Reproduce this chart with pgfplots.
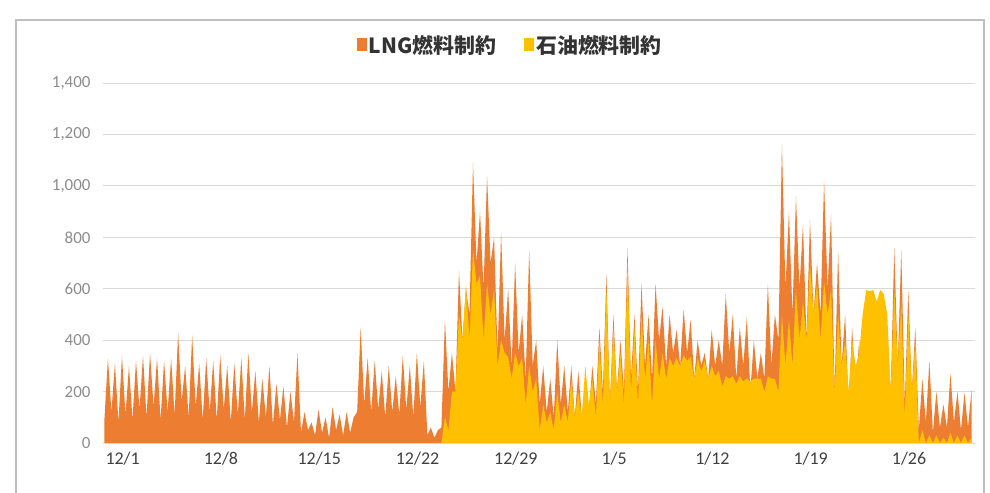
\documentclass[border=0pt]{standalone}
\usepackage{pgfplots}
\pgfplotsset{compat=1.18}
\usepackage{pgfplotstable}
\usepackage{fontspec}
\setmainfont{Carlito}
\newfontfamily\cjk{Noto Sans CJK JP}
\definecolor{lngc}{HTML}{ED7D31}
\definecolor{oilc}{HTML}{FFC000}
\definecolor{gridc}{HTML}{D9D9D9}
\definecolor{ylab}{HTML}{8C8C8C}
\definecolor{xlab}{HTML}{404040}
\pgfplotstableread{
x lng oil
0.10 90 0
0.35 330 0
0.60 120 0
0.85 310 0
1.10 80 0
1.35 340 0
1.60 110 0
1.85 300 0
2.10 90 0
2.35 320 0
2.60 130 0
2.85 340 0
3.10 100 0
3.35 350 0
3.60 140 0
3.85 330 0
4.10 90 0
4.35 320 0
4.60 120 0
4.85 330 0
5.10 110 0
5.35 430 0
5.60 160 0
5.85 300 0
6.10 100 0
6.35 420 0
6.60 140 0
6.85 310 0
7.10 90 0
7.35 330 0
7.60 120 0
7.85 320 0
8.10 90 0
8.35 340 0
8.60 130 0
8.85 300 0
9.10 80 0
9.35 310 0
9.60 110 0
9.85 330 0
10.10 90 0
10.35 350 0
10.60 120 0
10.85 280 0
11.10 80 0
11.35 250 0
11.60 100 0
11.85 300 0
12.10 70 0
12.35 230 0
12.60 90 0
12.85 220 0
13.10 60 0
13.35 200 0
13.60 80 0
13.85 350 0
14.10 40 0
14.35 120 0
14.60 50 0
14.85 80 0
15.10 30 0
15.35 130 0
15.60 40 0
15.85 100 0
16.10 20 0
16.35 140 0
16.60 50 0
16.85 110 0
17.10 30 0
17.35 120 0
17.60 40 0
17.85 100 0
18.10 120 0
18.35 450 0
18.60 150 0
18.85 330 0
19.10 120 0
19.35 320 0
19.60 130 0
19.85 280 0
20.10 100 0
20.35 300 0
20.60 120 0
20.85 260 0
21.10 110 0
21.35 340 0
21.60 130 0
21.85 300 0
22.10 100 0
22.35 350 0
22.60 140 0
22.85 320 0
23.10 30 0
23.35 60 0
23.60 20 0
23.85 50 0
24.10 60 0
24.35 480 100
24.60 200 50
24.85 350 200
25.10 200 200
25.35 670 500
25.60 400 400
25.85 600 620
26.10 500 400
26.35 1090 750
26.60 700 620
26.85 900 650
27.10 600 400
27.35 1040 620
27.60 700 500
27.85 800 600
28.10 350 300
28.35 820 400
28.60 400 350
28.85 600 335
29.10 300 250
29.35 700 350
29.60 350 300
29.85 500 330
30.10 250 150
30.35 750 300
30.60 300 200
30.85 400 250
31.10 150 50
31.35 300 150
31.60 120 80
31.85 250 120
32.10 100 50
32.35 400 200
32.60 150 80
32.85 300 150
33.10 120 80
33.35 300 250
33.60 100 100
33.85 280 200
34.10 100 100
34.35 250 300
34.60 120 150
34.85 300 250
35.10 150 100
35.35 450 400
35.60 200 150
35.85 660 600
36.10 150 150
36.35 500 450
36.60 200 200
36.85 400 350
37.10 200 150
37.35 760 700
37.60 250 200
37.85 500 450
38.10 200 150
38.35 620 500
38.60 300 250
38.85 500 400
39.10 250 150
39.35 620 400
39.60 400 250
39.85 530 350
40.10 300 250
40.35 500 330
40.60 350 300
40.85 440 330
41.10 300 300
41.35 520 340
41.60 350 320
41.85 480 335
42.10 250 250
42.35 400 330
42.60 300 280
42.85 350 320
43.10 250 250
43.35 440 300
43.60 300 260
43.85 400 280
44.10 300 220
44.35 580 260
44.60 350 250
44.85 500 260
45.10 250 230
45.35 450 260
45.60 300 240
45.85 490 250
46.10 200 240
46.35 400 250
46.60 250 250
46.85 350 250
47.10 250 200
47.35 620 260
47.60 300 250
47.85 500 250
48.10 400 200
48.35 1165 500
48.60 600 300
48.85 900 480
49.10 500 300
49.35 960 600
49.60 600 400
49.85 850 550
50.10 400 400
50.35 870 700
50.60 500 500
50.85 700 620
51.10 500 400
51.35 1020 630
51.60 600 500
51.85 890 600
52.10 200 200
52.35 750 500
52.60 300 300
52.85 500 400
53.10 150 200
53.35 450 400
53.60 200 300
53.85 400 350
54.10 100 500
54.35 300 595
54.60 150 590
54.85 250 595
55.10 100 550
55.35 350 595
55.60 150 580
55.85 400 500
56.10 200 200
56.35 760 600
56.60 300 300
56.85 750 550
57.10 150 100
57.35 595 500
57.60 200 200
57.85 450 400
58.10 50 0
58.35 250 50
58.60 80 0
58.85 320 30
59.10 40 0
59.35 200 30
59.60 60 0
59.85 150 20
60.10 60 0
60.35 270 40
60.60 80 0
60.85 200 30
61.10 50 0
61.35 195 30
61.60 60 0
61.85 205 20
}\data

\begin{document}
\begin{tikzpicture}
\path[use as bounding box] (0,0) rectangle (990bp,493bp);
\draw[black!25, line width=1.5bp] (16bp,-10bp) -- (16bp,473bp) -- (984bp,473bp) -- (984bp,-10bp);
\begin{axis}[
  at={(103bp,50bp)}, anchor=south west,
  width=872bp, height=360bp, scale only axis,
  xmin=0, xmax=62.1, ymin=0, ymax=1400,
  ytick={0,200,...,1400},
  xtick={1.4,8.4,15.4,22.4,29.4,36.4,43.4,50.4,57.4},
  xticklabels={12/1,12/8,12/15,12/22,12/29,1/5,1/12,1/19,1/26},
  ymajorgrids, grid style={gridc, line width=0.9bp},
  axis line style={draw=none},
  major tick length=0pt,
  yticklabel style={text=ylab, xshift=-9bp, font=\fontsize{17}{20}\selectfont},
  xticklabel style={text=xlab, yshift=-6bp, font=\fontsize{18}{21}\selectfont},
  /pgf/number format/1000 sep={,},
  /pgf/number format/assume math mode=true,
  legend columns=2,
  legend style={at={(0.467,1.106)}, anchor=center, draw=none, fill=none,
    font=\cjk\bfseries\fontsize{21}{25}\selectfont, text=black!80,
    /tikz/every even column/.append style={column sep=26bp}},
  legend image code/.code={\fill[#1] (0bp,-6bp) rectangle (10bp,7bp);},
]
\addplot[fill=lngc, draw=none] table[x=x, y=lng]{\data} \closedcycle;
\addlegendentry{LNG燃料制約}
\addplot[fill=oilc, draw=none] table[x=x, y=oil]{\data} \closedcycle;
\addlegendentry{石油燃料制約}
\end{axis}
\end{tikzpicture}
\end{document}
